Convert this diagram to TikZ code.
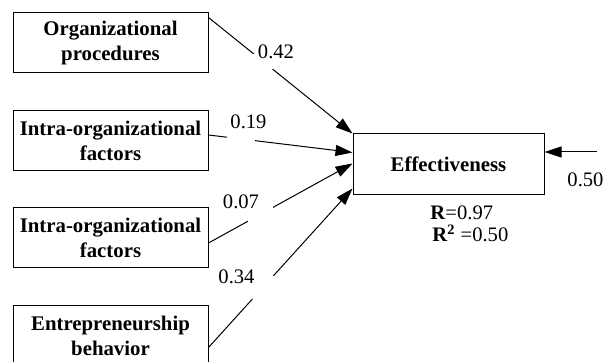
\documentclass[tikz,border=0pt]{standalone}
\usepackage{fontspec}
\setmainfont{Liberation Serif}
\usepackage{tikz}
\usetikzlibrary{arrows.meta}
\tikzstyle{rect} = [rectangle, minimum width=97.5pt, minimum height=30pt, text centered, align=center, draw=black, line width=0.5pt, font=\fontsize{10.4}{12.5}\selectfont\bfseries]
\tikzstyle{effrect} = [rectangle, minimum width=95.5pt, minimum height=30.5pt, text centered, draw=black, line width=0.5pt, font=\fontsize{10.4}{12.5}\selectfont\bfseries]
\tikzstyle{arrow} = [line width=0.5pt,-{Triangle[length=8.5pt,width=5.5pt]}]
\tikzstyle{coef} = [inner sep=0pt, font=\fontsize{10.3}{12.5}\selectfont]
\tikzstyle{gap} = [fill=white, inner sep=0pt]

\begin{document}
\begin{tikzpicture}[x=0.5pt, y=-0.5pt]
        \useasboundingbox (0,0) rectangle (606,362);
        \node (org) [rect] at (110.5,43) {Organizational\\procedures};
        \node (intra1) [rect] at (110.5,141) {Intra-organizational\\factors};
        \node (intra2) [rect] at (110.5,238) {Intra-organizational\\factors};
        \node (entre) [rect] at (110.5,335.5) {Entrepreneurship\\behavior};
        \node (eff) [effrect] at (448.5,164.5) {Effectiveness};
        
        \draw [arrow] ([yshift=-2.5pt]org.north east) -- node (g1) [gap, pos=0.379, minimum width=10pt, minimum height=7.5pt] {} (eff.north west);
        \draw [arrow] ([yshift=3pt]intra1.east) -- node (g2) [gap, pos=0.228, minimum width=14pt, minimum height=5pt] {} ([yshift=6pt]eff.west);
        \draw [arrow] ([yshift=-2.5pt]intra2.east) -- node (g3) [gap, pos=0.362, minimum width=12.5pt, minimum height=9pt] {} ([yshift=0.5pt]eff.west);
        \draw [arrow] ([yshift=-6pt]entre.east) -- node (g4) [gap, pos=0.379, minimum width=11pt, minimum height=11.5pt] {} ([yshift=3.5pt]eff.south west);
        
        \coordinate (err) at (597,152) {};
        \draw [arrow] (err) -- (eff.east |- err);
        
        \node (w1) [coef] at (276,52) {0.42};
        \node (w2) [coef] at (248.5,121.5) {0.19};
        \node (w3) [coef] at (241,201.5) {0.07};
        \node (w4) [coef] at (236.5,276.5) {0.34};
        \node (w5) [coef] at (585.5,180) {0.50};
        
        \node (rval) [coef, anchor=base west] at (430,220) {\textbf{R}=0.97};
        \node (rsq) [coef, anchor=base west] at (432,241.7) {\textbf{R\textsuperscript{2}} =0.50};
\end{tikzpicture}
\end{document}
